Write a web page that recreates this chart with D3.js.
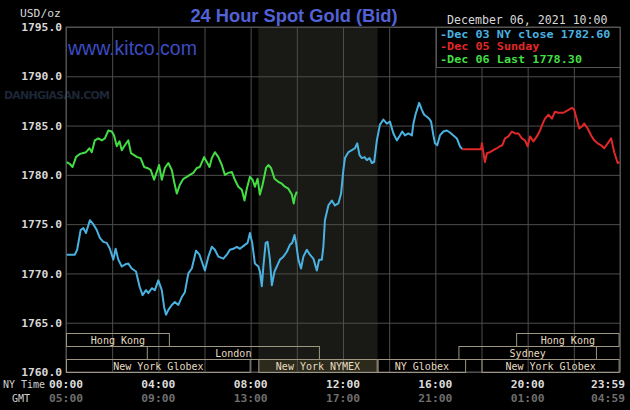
<!DOCTYPE html>
<html><head><meta charset="utf-8">
<script src="https://cdn.jsdelivr.net/npm/d3@7"></script>
<style>
html,body{margin:0;padding:0;background:#000;}
svg{display:block;}
</style></head>
<body>
<svg id="c" width="630" height="410"></svg>
<script>
// ---- data (time in minutes after 00:00 NY time, price USD/oz) ----
const blueTimes = [2,23,29,38,45,52,62,71,80,88,97,106,114,123,129,136,145,153,162,171,182,191,199,208,214,223,231,240,249,255,260,266,275,283,292,301,309,318,327,338,347,361,370,379,387,396,409,418,426,435,444,452,465,472,478,484,491,500,504,509,513,519,524,530,535,542,548,556,565,574,582,588,594,598,604,611,617,626,634,643,652,658,665,669,673,682,691,699,708,715,721,725,734,743,751,757,763,769,776,782,789,795,801,808,816,825,834,842,851,860,868,874,881,890,899,903,909,918,925,931,938,944,949,955,959,965,972,981,990,998,1007,1016,1024,1030];
const bluePrices = [1771.9,1771.9,1772.4,1774.4,1774.6,1774.1,1775.4,1775.0,1774.4,1773.6,1773.2,1773.1,1772.5,1771.4,1772.5,1771.4,1770.7,1770.9,1771.0,1770.5,1770.2,1768.7,1767.8,1768.3,1768.0,1768.5,1768.3,1769.3,1768.3,1766.6,1765.8,1766.3,1766.8,1767.1,1766.8,1767.6,1768.1,1770.0,1770.5,1772.3,1771.9,1770.3,1771.7,1772.7,1772.4,1771.7,1771.5,1771.9,1772.4,1772.5,1772.7,1772.5,1772.9,1773.1,1774.1,1773.1,1771.0,1770.7,1770.2,1768.7,1770.7,1773.1,1773.2,1771.4,1768.8,1770.2,1770.7,1771.4,1771.7,1772.2,1772.9,1773.1,1773.9,1773.1,1771.4,1770.5,1771.7,1772.4,1771.9,1771.5,1770.3,1771.4,1771.4,1772.7,1775.4,1776.9,1777.4,1776.9,1777.1,1778.1,1780.5,1781.7,1782.3,1782.5,1782.7,1783.2,1782.0,1781.7,1781.8,1781.5,1781.7,1781.2,1781.3,1783.5,1785.1,1785.6,1785.2,1785.4,1784.2,1783.5,1784.0,1784.4,1784.0,1784.2,1784.0,1785.2,1786.2,1787.3,1786.6,1786.1,1785.9,1785.7,1785.4,1784.0,1783.2,1783.0,1784.0,1784.4,1784.5,1784.3,1784.0,1783.7,1782.9,1782.6];

const redTimes = [1030,1079,1081,1089,1094,1102,1111,1120,1128,1134,1141,1150,1159,1167,1176,1185,1193,1200,1206,1215,1224,1232,1238,1245,1254,1263,1271,1280,1293,1306,1315,1321,1328,1334,1341,1347,1356,1365,1373,1382,1391,1399,1408,1417,1425,1434,1439];
const redPrices = [1782.6,1782.6,1783.2,1781.3,1782.2,1782.3,1782.5,1782.7,1782.9,1783.0,1783.7,1783.9,1784.4,1784.2,1784.2,1783.7,1783.5,1782.9,1783.9,1783.4,1783.9,1784.5,1785.1,1785.7,1786.1,1785.7,1786.4,1786.3,1786.3,1786.6,1786.8,1786.6,1785.6,1784.7,1784.9,1785.2,1784.7,1784.0,1783.5,1783.2,1783.0,1782.7,1783.2,1783.7,1782.3,1781.2,1781.3];

const greenTimes = [2,10,17,26,35,43,52,61,67,75,84,93,101,110,119,125,132,139,145,153,162,169,177,185,194,203,211,220,229,236,242,249,257,266,275,281,288,296,305,314,322,331,340,348,359,366,373,379,387,396,405,413,422,431,439,448,457,464,470,478,485,491,498,504,511,520,526,533,542,552,561,569,578,587,592,595,600];
const greenPrices = [1781.3,1781.1,1780.8,1781.8,1782.1,1782.2,1782.3,1782.7,1782.3,1783.5,1783.7,1783.5,1783.7,1784.5,1784.4,1784.0,1782.9,1783.4,1782.5,1783.0,1783.5,1782.2,1782.0,1781.8,1781.7,1780.8,1780.7,1780.5,1779.5,1780.3,1781.0,1779.5,1780.7,1781.2,1780.5,1779.3,1778.1,1779.0,1779.6,1779.8,1780.0,1780.2,1780.7,1780.8,1781.8,1781.3,1780.8,1781.7,1782.3,1781.8,1781.0,1780.0,1780.2,1780.3,1779.5,1778.8,1778.5,1777.4,1778.6,1779.8,1779.5,1778.8,1779.6,1778.0,1779.0,1780.7,1781.0,1780.7,1779.6,1779.3,1779.1,1778.8,1778.6,1778.0,1777.1,1777.8,1778.3];

const yTicks = [1760,1765,1770,1775,1780,1785,1790,1795];
const gridHours = [0,120,240,360,480,600,720,840,960,1080,1200,1320,1440];
const nyTimeLabels = ["00:00","04:00","08:00","12:00","16:00","20:00","23:59"];
const gmtLabels = ["05:00","09:00","13:00","17:00","21:00","01:00","04:59"];
const labelTimes = [0,240,480,720,960,1200,1439];

const sessionNames = ["Hong Kong","Hong Kong","London","Sydney","New York Globex","New York NYMEX","NY Globex","New York Globex"];
const sessionStart = [0,1170,210,1020,0,500,810,1080];
const sessionEnd   = [270,1439,660,1380,480,810,1040,1439];
const sessionRow   = [0,0,1,1,2,2,2,2];

const legendTexts = ["-Dec 03 NY close 1782.60","-Dec 05 Sunday","-Dec 06 Last 1778.30"];
const legendColors = ["#4ab2e0","#e02828","#44dd44"];
const shadeStart = 500, shadeEnd = 810;

// ---- drawing ----
const svg = d3.select("#c");
const L = 66, R = 620, T = 27, B = 372;
const x = d3.scaleLinear().domain([0,1440]).range([L,R]);
const y = d3.scaleLinear().domain([1760,1795]).range([B,T]);
const row = d3.scaleBand().domain([0,1,2]).range([333,B]);
const mono = "'DejaVu Sans Mono', monospace";

svg.append("rect").attr("width",630).attr("height",410).attr("fill","#000");

// watermark
svg.append("text").attr("x",4).attr("y",99).attr("fill","#1d2636")
  .attr("font-family","'DejaVu Sans', sans-serif").attr("font-weight","bold")
  .attr("font-size",11).attr("textLength",106).text("DANHGIASAN.COM");

// NYMEX shade
svg.append("rect").attr("x",x(shadeStart)).attr("y",T)
  .attr("width",x(shadeEnd)-x(shadeStart)).attr("height",B-T).attr("fill","#191a15");

// session fills (NYMEX highlighted)
const sess = sessionNames.map((n,i)=>({n, s:sessionStart[i], e:sessionEnd[i], r:sessionRow[i]}));
svg.append("g").selectAll("rect").data(sess.filter(d=>d.n==="New York NYMEX")).join("rect")
  .attr("x",d=>x(d.s)).attr("y",d=>row(d.r)).attr("width",d=>x(d.e)-x(d.s)).attr("height",row.bandwidth())
  .attr("fill","#2c2a1b");

// grid via axes
const gx = svg.append("g").attr("transform",`translate(0,${B})`)
  .call(d3.axisBottom(x).tickValues(gridHours).tickSize(-(B-T)).tickFormat(""));
const gy = svg.append("g").attr("transform",`translate(${L},0)`)
  .call(d3.axisLeft(y).tickValues(yTicks).tickSize(-(R-L)).tickFormat(d3.format(".1f")).tickPadding(4));
[gx,gy].forEach(g=>{
  g.select(".domain").remove();
  g.selectAll(".tick line").attr("stroke","#4d4d4d").attr("stroke-width",1);
});
gy.selectAll(".tick text").attr("fill","#d8d8d8").attr("font-family",mono)
  .attr("font-weight","bold").attr("font-size",11.3);
svg.append("rect").attr("x",L).attr("y",T).attr("width",R-L).attr("height",B-T)
  .attr("fill","none").attr("stroke","#555").attr("stroke-width",1);

// session boxes
const sg = svg.append("g").selectAll("g").data(sess).join("g");
sg.append("rect").attr("x",d=>x(d.s)+0.5).attr("y",d=>row(d.r)+0.5)
  .attr("width",d=>x(d.e)-x(d.s)-1).attr("height",row.bandwidth())
  .attr("fill","none").attr("stroke","#9d9682").attr("stroke-width",1);
sg.append("text").attr("x",d=>(x(d.s)+x(d.e))/2).attr("y",d=>row(d.r)+row.bandwidth()/2+4)
  .attr("text-anchor","middle").attr("fill","#e6dcc0").attr("font-family",mono)
  .attr("font-size",10).text(d=>d.n);

// series
const line = d3.line().x(d=>x(d[0])).y(d=>y(d[1]));
const series = [
  {t:blueTimes,p:bluePrices,c:legendColors[0]},
  {t:redTimes,p:redPrices,c:legendColors[1]},
  {t:greenTimes,p:greenPrices,c:legendColors[2]}
];
series.forEach(s=>{
  svg.append("path").datum(s.t.map((t,i)=>[t,s.p[i]])).attr("d",line)
    .attr("fill","none").attr("stroke",s.c).attr("stroke-width",2).attr("stroke-linejoin","round");
});

// legend
svg.append("rect").attr("x",436.5).attr("y",T+0.5).attr("width",R-436.5).attr("height",40)
  .attr("fill","#000").attr("stroke","#555");
svg.append("g").selectAll("text").data(legendTexts).join("text")
  .attr("x",440).attr("y",(d,i)=>38+i*12.3).attr("fill",(d,i)=>legendColors[i])
  .attr("font-family",mono).attr("font-weight","bold").attr("font-size",10.5)
  .attr("textLength",d=>d.length*7.1).attr("lengthAdjust","spacingAndGlyphs").text(d=>d);

// titles
svg.append("text").attr("x",294).attr("y",22).attr("text-anchor","middle")
  .attr("fill","#5262d6").attr("font-family","'Liberation Sans', Arial, sans-serif")
  .attr("font-weight","bold").attr("font-size",18.3).text("24 Hour Spot Gold (Bid)");
svg.append("text").attr("x",68).attr("y",55).attr("fill","#3c4cc4")
  .attr("font-family","'Liberation Sans', Arial, sans-serif").attr("font-size",19.5).text("www.kitco.com");
svg.append("text").attr("x",447).attr("y",24).attr("fill","#d8d8d8")
  .attr("font-family",mono).attr("font-size",11.6).text("December 06, 2021 10:00");
svg.append("text").attr("x",20).attr("y",17).attr("fill","#d8d8d8")
  .attr("font-family",mono).attr("font-size",11.3).text("USD/oz");

// bottom labels
svg.append("text").attr("x",3).attr("y",388).attr("fill","#d0d0d0")
  .attr("font-family",mono).attr("font-size",10).text("NY Time");
svg.append("text").attr("x",12).attr("y",402).attr("fill","#d0d0d0")
  .attr("font-family",mono).attr("font-size",10).text("GMT");
const lab = svg.append("g").selectAll("g").data(labelTimes).join("g");
lab.append("text").attr("x",(d,i)=> i===labelTimes.length-1 ? 625 : x(d))
  .attr("text-anchor",(d,i)=> i===labelTimes.length-1 ? "end" : "middle")
  .attr("y",388).attr("fill","#dcdcdc").attr("font-family",mono).attr("font-weight","bold")
  .attr("font-size",11.3).text((d,i)=>nyTimeLabels[i]);
lab.append("text").attr("x",(d,i)=> i===labelTimes.length-1 ? 625 : x(d))
  .attr("text-anchor",(d,i)=> i===labelTimes.length-1 ? "end" : "middle")
  .attr("y",402).attr("fill","#6e6e6e").attr("font-family",mono).attr("font-weight","bold")
  .attr("font-size",11.3).text((d,i)=>gmtLabels[i]);
</script>
</body></html>
